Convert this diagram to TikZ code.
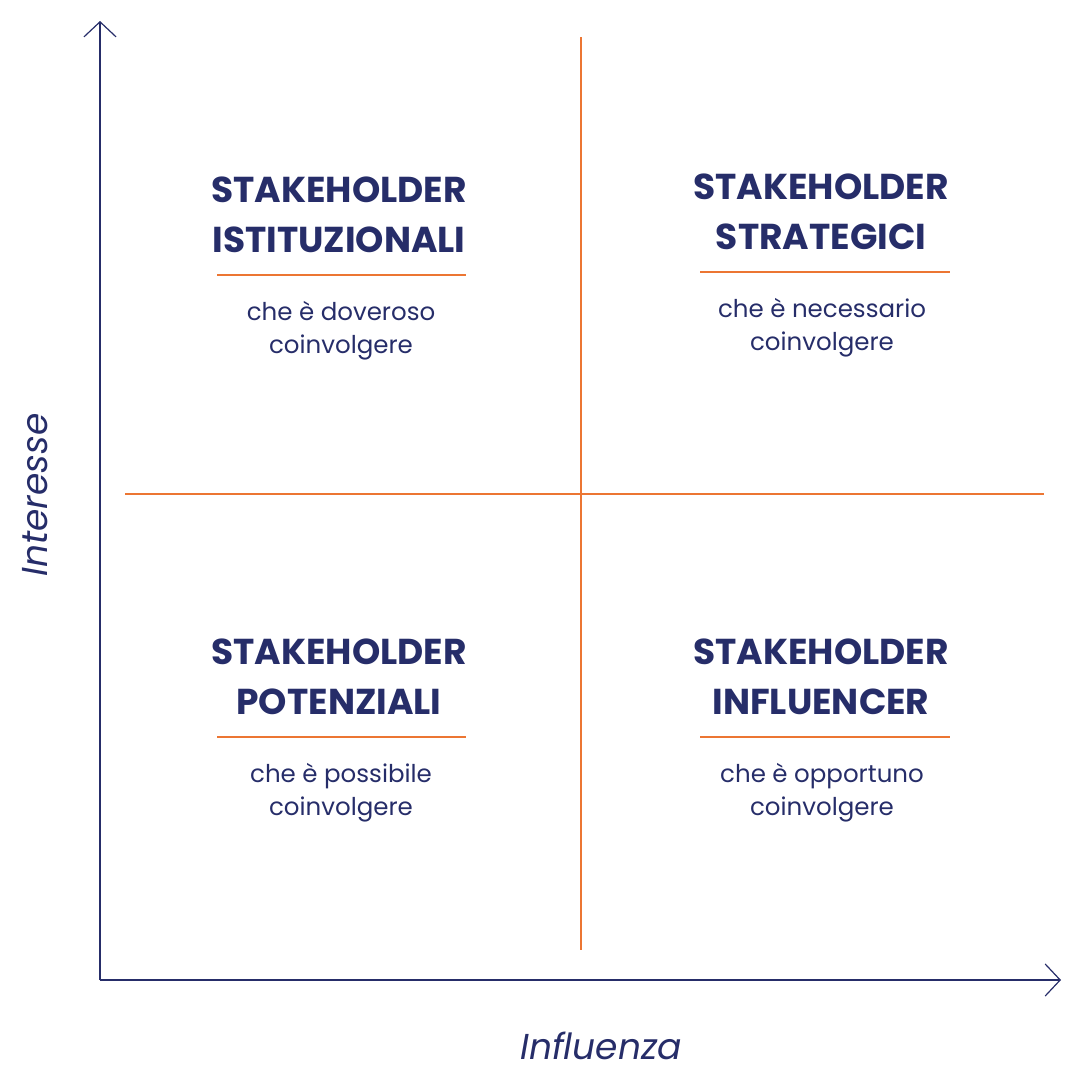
\documentclass[tikz,border=0pt]{standalone}
\usepackage{fontspec}
\setmainfont{Poppins}
\usetikzlibrary{arrows.meta}

\definecolor{blunotte}{HTML}{262D69}
\definecolor{arancio}{HTML}{EC7633}

\begin{document}
\begin{tikzpicture}[x=1pt,y=-1pt,
    asse/.style={blunotte,line width=1.2pt,-{Straight Barb[length=15pt,width=32pt,sep=6pt]}},
    griglia/.style={arancio,line width=1.4pt},
    titolo/.style={blunotte,anchor=base,inner sep=0pt,align=center,font=\fontsize{36}{50}\selectfont\bfseries},
    nota/.style={blunotte,anchor=base,inner sep=0pt,align=center,font=\fontsize{24.5}{33}\selectfont},
    etichetta/.style={blunotte,inner sep=0pt,font=\fontsize{36}{36}\selectfont\itshape}]
    \useasboundingbox (0,0) rectangle (1068,1068);
    % assi
    \coordinate (origine) at (100,980);
    \coordinate (cima) at (100,15);
    \coordinate (fondo) at (1067,980);
    \draw [asse] (origine) -- (cima);
    \draw [asse] (origine) -- (fondo);
    \node [etichetta,rotate=90] (interesse) at (35,495) {Interesse};
    \node [etichetta,anchor=base] (influenza) at (601,1059) {Influenza};
    % croce dei quadranti
    \coordinate (nord) at (581,37);
    \coordinate (sud) at (581,950);
    \coordinate (ovest) at (125,494);
    \coordinate (est) at (1044,494);
    \draw [griglia] (nord) -- (sud);
    \draw [griglia] (ovest) -- (est);
    % in alto a sinistra
    \node [titolo] (istituzionali) at (339,252) {STAKEHOLDER\\ISTITUZIONALI};
    \draw [griglia,line width=1.2pt] (217,275) -- (466,275);
    \node [nota] (doveroso) at (341,353) {che è doveroso\\coinvolgere};
    % in alto a destra
    \node [titolo] (strategici) at (821,249) {STAKEHOLDER\\STRATEGICI};
    \draw [griglia,line width=1.2pt] (700,272) -- (950,272);
    \node [nota] (necessario) at (822,350) {che è necessario\\coinvolgere};
    % in basso a sinistra
    \node [titolo] (potenziali) at (339,714) {STAKEHOLDER\\POTENZIALI};
    \draw [griglia,line width=1.2pt] (217,737) -- (466,737);
    \node [nota] (possibile) at (341,815) {che è possibile\\coinvolgere};
    % in basso a destra
    \node [titolo] (influencer) at (821,714) {STAKEHOLDER\\INFLUENCER};
    \draw [griglia,line width=1.2pt] (700,737) -- (950,737);
    \node [nota] (opportuno) at (822,815) {che è opportuno\\coinvolgere};
\end{tikzpicture}
\end{document}
